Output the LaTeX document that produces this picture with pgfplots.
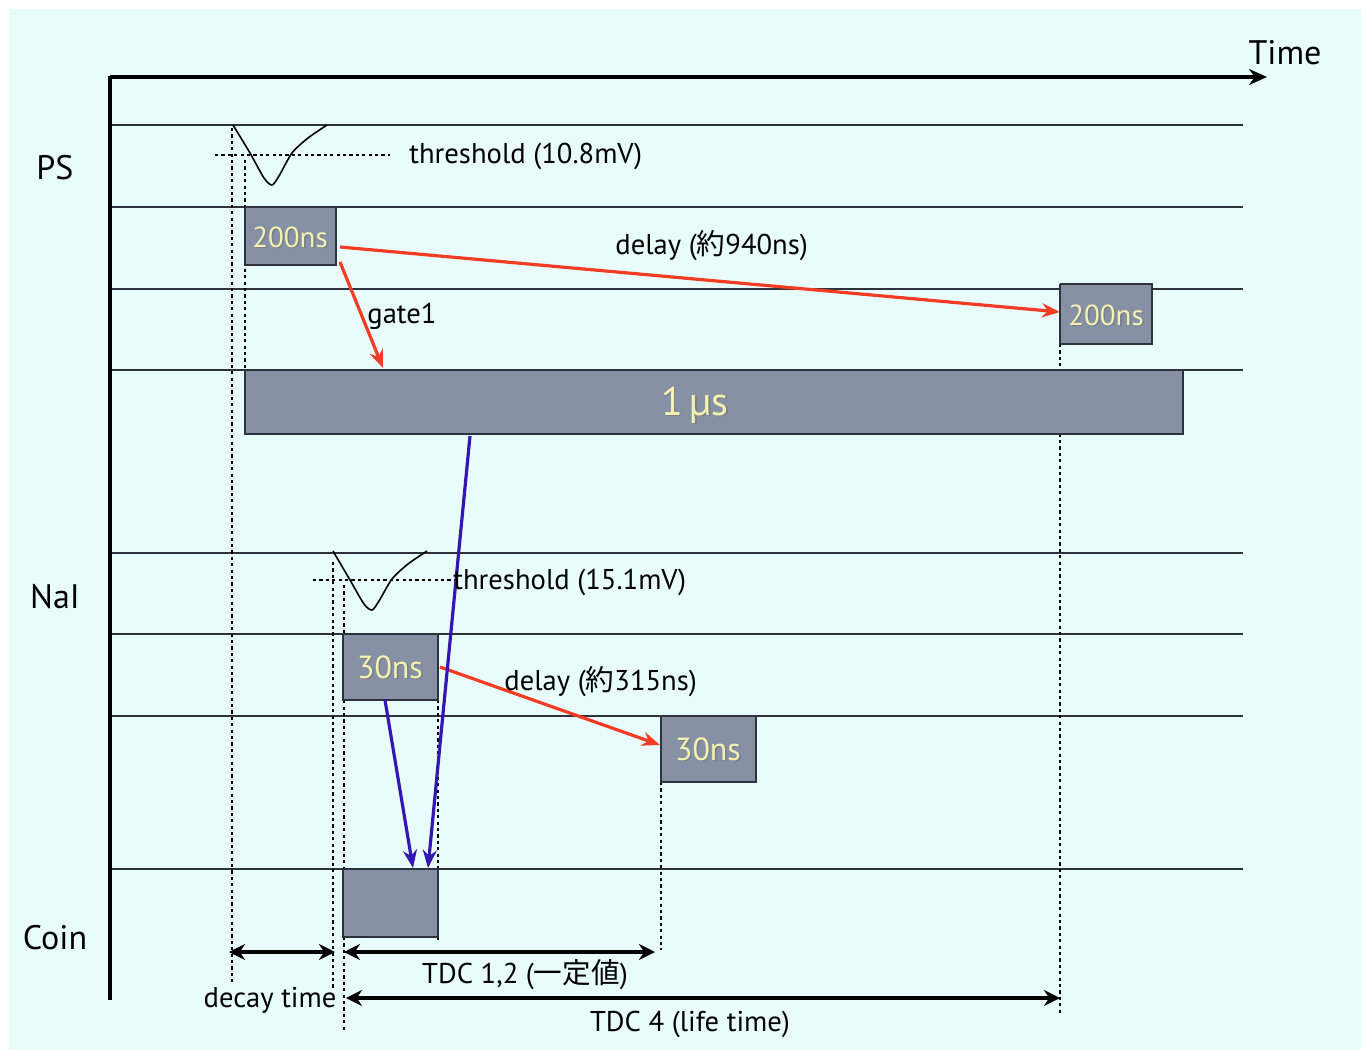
\documentclass[border=0pt]{standalone}
\usepackage{pgfplots}
\pgfplotsset{compat=1.18}
\usepackage{fontspec}
\setmainfont{PT Sans}
\newfontfamily\cjk{Noto Sans CJK JP}
\usetikzlibrary{arrows.meta}
\definecolor{bg}{RGB}{232,252,252}
\definecolor{boxc}{RGB}{135,145,166}
\definecolor{lbl}{RGB}{242,242,178}
\definecolor{redc}{RGB}{242,60,35}
\definecolor{bluec}{RGB}{52,22,178}
\definecolor{linec}{RGB}{45,50,60}
\tikzset{shad/.style={text=black!55,opacity=0.6,xshift=0.8pt,yshift=-0.8pt},
  yl/.style={text=lbl},
  dots/.style={black,line width=0.7pt,dash pattern=on 1.6pt off 1.6pt}}
\begin{document}
\begin{tikzpicture}
\begin{axis}[width=680.5pt,height=525pt,scale only axis,
  xmin=0,xmax=1361,ymin=0,ymax=1050,y dir=reverse,
  hide axis,clip=false]
% background
\addplot[fill=white,draw=none] coordinates {(0,0)(1361,0)(1361,1050)(0,1050)(0,0)};
\addplot[fill=bg,draw=none] coordinates {(9,9)(1361,9)(1361,1050)(9,1050)(9,9)};
% lane lines
\pgfplotsinvokeforeach{125,207,289,370,553,634,716,869}{
  \addplot[linec,line width=1pt] coordinates {(110,#1)(1243,#1)};
}
% dotted verticals
\addplot[dots] coordinates {(232,128)(232,985)};
\addplot[dots] coordinates {(245,160)(245,370)};
\addplot[dots] coordinates {(333,562)(333,990)};
\addplot[dots] coordinates {(344,585)(344,1030)};
\addplot[dots] coordinates {(438,700)(438,940)};
\addplot[dots] coordinates {(661,782)(661,950)};
\addplot[dots] coordinates {(1060,344)(1060,1015)};
% threshold lines
\addplot[dots] coordinates {(215,155)(390,155)};
\addplot[dots] coordinates {(313,580)(455,580)};
% pulses
\addplot[black,line width=0.8pt,smooth,tension=0.45] coordinates {(233,125)(250,153)(264,178)(272,185)(279,176)(292,153)(308,138)(327,125)};
\addplot[black,line width=0.8pt,smooth,tension=0.45] coordinates {(333,551)(350,580)(364,604)(372,610)(379,601)(392,579)(408,564)(427,551)};
% boxes
\addplot[fill=boxc,draw=linec,line width=1.2pt] coordinates {(245,207)(336,207)(336,265)(245,265)(245,207)};
\addplot[fill=boxc,draw=linec,line width=1.2pt] coordinates {(1060,284)(1152,284)(1152,344)(1060,344)(1060,284)};
\addplot[fill=boxc,draw=linec,line width=1.2pt] coordinates {(245,370)(1183,370)(1183,434)(245,434)(245,370)};
\addplot[fill=boxc,draw=linec,line width=1.2pt] coordinates {(343,634)(438,634)(438,700)(343,700)(343,634)};
\addplot[fill=boxc,draw=linec,line width=1.2pt] coordinates {(661,716)(756,716)(756,782)(661,782)(661,716)};
\addplot[fill=boxc,draw=linec,line width=1.2pt] coordinates {(343,869)(438,869)(438,937)(343,937)(343,869)};
% main axes
\addplot[black,line width=2pt,-{Stealth[length=9pt,width=8pt]}] coordinates {(110,77)(1267,77)};
\addplot[black,line width=2pt] coordinates {(110,76)(110,1000)};
% red arrows
\addplot[redc,line width=1.6pt,-{Stealth[length=9pt,width=7pt]}] coordinates {(340,247)(1060,312)};
\addplot[redc,line width=1.6pt,-{Stealth[length=9pt,width=7pt]}] coordinates {(340,262)(383,368)};
\addplot[redc,line width=1.6pt,-{Stealth[length=9pt,width=7pt]}] coordinates {(440,667)(660,745)};
% blue arrows
\addplot[bluec,line width=1.6pt,-{Stealth[length=9pt,width=7pt]}] coordinates {(385,700)(413,868)};
\addplot[bluec,line width=1.6pt,-{Stealth[length=9pt,width=7pt]}] coordinates {(470,436)(428,868)};
% bottom interval arrows
\addplot[black,line width=1.6pt,{Stealth[length=8pt,width=8pt]}-{Stealth[length=8pt,width=8pt]}] coordinates {(229,952)(335,952)};
\addplot[black,line width=1.6pt,{Stealth[length=8pt,width=8pt]}-{Stealth[length=8pt,width=8pt]}] coordinates {(344,952)(655,952)};
\addplot[black,line width=1.6pt,{Stealth[length=8pt,width=8pt]}-{Stealth[length=8pt,width=8pt]}] coordinates {(346,998)(1060,998)};
% texts
\node[font=\fontsize{17}{20}\selectfont] at (axis cs:1285,53) {Time};
\node[font=\fontsize{17}{20}\selectfont] at (axis cs:55,168) {PS};
\node[font=\fontsize{17}{20}\selectfont] at (axis cs:55,597) {NaI};
\node[font=\fontsize{17}{20}\selectfont] at (axis cs:55,938) {Coin};
\node[anchor=west,inner sep=0pt,font=\fontsize{14.3}{17}\selectfont] at (axis cs:409,156) {threshold (10.8mV)};
\node[anchor=west,inner sep=0pt,font=\fontsize{14.3}{17}\selectfont] at (axis cs:453,582) {threshold (15.1mV)};
\node[anchor=west,inner sep=0pt,font=\fontsize{14.3}{17}\selectfont] at (axis cs:615,246) {delay ({\cjk 約}940ns)};
\node[anchor=west,inner sep=0pt,font=\fontsize{14.3}{17}\selectfont] at (axis cs:504,682) {delay ({\cjk 約}315ns)};
\node[anchor=west,inner sep=0pt,font=\fontsize{14.3}{17}\selectfont] at (axis cs:367,316) {gate1};
\node[font=\fontsize{14.3}{17}\selectfont] at (axis cs:525,975) {TDC 1,2 ({\cjk 一定値})};
\node[font=\fontsize{14.3}{17}\selectfont] at (axis cs:270,1000) {decay time};
\node[font=\fontsize{14.3}{17}\selectfont] at (axis cs:690,1024) {TDC 4 (life time)};
% box labels with shadow
\node[shad,font=\fontsize{14.5}{18}\selectfont] at (axis cs:290,237) {200ns};
\node[yl,font=\fontsize{14.5}{18}\selectfont] at (axis cs:290,237) {200ns};
\node[shad,font=\fontsize{14.5}{18}\selectfont] at (axis cs:1106,315) {200ns};
\node[yl,font=\fontsize{14.5}{18}\selectfont] at (axis cs:1106,315) {200ns};
\node[shad,font=\fontsize{16}{18}\selectfont] at (axis cs:390,667) {30ns};
\node[yl,font=\fontsize{16}{18}\selectfont] at (axis cs:390,667) {30ns};
\node[shad,font=\fontsize{16}{18}\selectfont] at (axis cs:708,749) {30ns};
\node[yl,font=\fontsize{16}{18}\selectfont] at (axis cs:708,749) {30ns};
\node[shad,font=\fontsize{20}{22}\selectfont] at (axis cs:695,405) {1\,µs};
\node[yl,font=\fontsize{20}{22}\selectfont] at (axis cs:695,405) {1\,µs};
\end{axis}
\end{tikzpicture}
\end{document}
